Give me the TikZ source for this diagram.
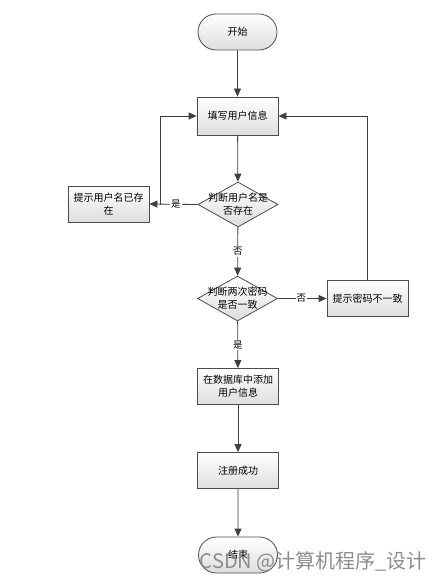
\documentclass[tikz,border=0pt]{standalone}
\usepackage{fontspec}
\newfontfamily\cjk{Noto Sans CJK SC}
\usetikzlibrary{shapes.geometric,shapes.misc,arrows.meta}
\begin{document}
\begin{tikzpicture}[x=1pt,y=-1pt,
  base/.style={draw=black!70,line width=0.8pt,top color=white,bottom color=black!13,
    font=\cjk\fontsize{10}{13}\selectfont,align=center,inner sep=1pt},
  procbox/.style={base,rectangle,minimum width=81pt,minimum height=36pt},
  termbox/.style={base,rounded rectangle,minimum width=81pt,minimum height=36pt},
  decbox/.style={base,diamond,aspect=1.78,minimum width=80pt,minimum height=45pt,inner sep=0pt},
  dectext/.style={font=\cjk\fontsize{10}{13}\selectfont,align=center,inner sep=0pt},
  conn/.style={draw=black!75,line width=0.8pt,-{Triangle[width=7pt,length=8pt]}},
  lbl/.style={fill=white,font=\cjk\fontsize{9.5}{11}\selectfont,inner sep=1pt}]
\useasboundingbox (0,0) rectangle (442,580);
\node[termbox] (start) at (237.5,32) {开始};
\node[procbox,minimum height=38pt] (fill) at (237.5,116) {填写用户信息};
\node[decbox] (d1) at (238,204.5) {};
\node[dectext] (d1t) at (238,204.5) {判断用户名是\\否存在};
\node[procbox] (exist) at (108.5,204) {提示用户名已存\\在};
\node[decbox] (d2) at (237.5,298.5) {};
\node[dectext] (d2t) at (237.5,298.5) {判断两次密码\\是否一致};
\node[procbox] (mismatch) at (367.5,298.5) {提示密码不一致};
\node[procbox] (add) at (238,386.5) {在数据库中添加\\用户信息};
\node[procbox] (ok) at (238,470.5) {注册成功};
\node[termbox] (end) at (238,555) {结束};
\coordinate (j1) at (160,204.5);
\coordinate (j1u) at (160,116);
\coordinate (j2) at (367.5,116);
\draw[conn] (start) -- (fill);
\draw[conn] (fill) -- (d1);
\draw[conn] (d1.west) -- node[lbl,pos=0.45]{是} (exist.east);
\draw[conn] (j1) -- (j1u) -- (fill.west);
\draw[conn] (d1) -- node[lbl]{否} (d2);
\draw[conn] (d2.east) -- node[lbl,pos=0.48]{否} (mismatch.west);
\draw[conn] (mismatch.north) -- (j2) -- (fill.east);
\draw[conn] (d2) -- node[lbl,pos=0.5]{是} (add);
\draw[conn] (add) -- (ok);
\draw[conn] (ok) -- (end);
\node[anchor=base east,text=black!45,font=\cjk\fontsize{20}{22}\selectfont,inner sep=0pt] (wm) at (427,568) {CSDN @计算机程序\_设计};
\end{tikzpicture}
\end{document}
